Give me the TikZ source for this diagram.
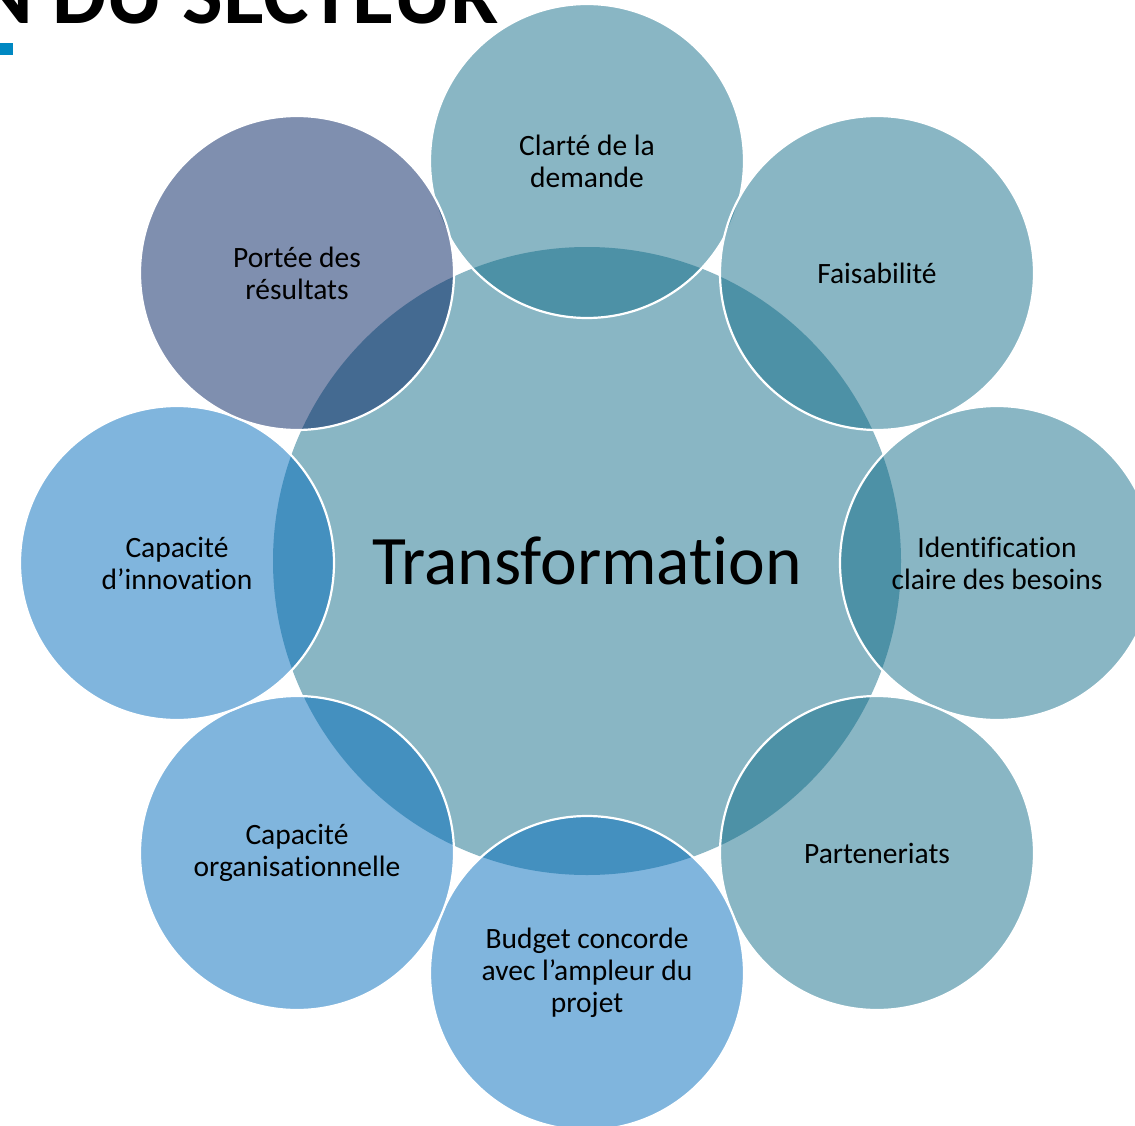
\documentclass[tikz,border=0pt]{standalone}
\usepackage{fontspec}
\setmainfont{Carlito}[Ligatures={NoCommon}]
\definecolor{teal}{RGB}{19,109,137}
\definecolor{slate}{RGB}{0,31,95}
\definecolor{lblue}{RGB}{1,107,187}
\definecolor{core}{RGB}{137,182,196}
\definecolor{accent}{RGB}{0,136,194}
\begin{document}
\begin{tikzpicture}[x=1pt,y=-1pt,
  sat/.style={circle, draw=white, line width=2.2pt, minimum size=314pt, inner sep=0pt,
    fill opacity=0.5, text opacity=1, align=center, text=black,
    font=\fontsize{29.5}{32}\selectfont},
  satT/.style={sat, fill=teal},
  satB/.style={sat, fill=lblue},
  satS/.style={sat, fill=slate}]
\useasboundingbox (0,0) rectangle (1135,1126);
\clip (0,0) rectangle (1135,1126);
% title fragment
\node[anchor=base east, inner sep=0pt, font=\fontsize{86}{90}\selectfont\bfseries] (title) at (499,24) {N DU SECTEUR};
\fill[accent] (0,43) rectangle (13,55);
% central circle
\node[circle, fill=core, minimum size=628pt, inner sep=0pt, text=black,
  font=\fontsize{69.5}{74}\selectfont] (center) at (587,561) {Transformation};
% satellites
\node[satT] (n1) at (587,161) {Clarté de la\\demande};
\node[satT] (n2) at (877,273) {Faisabilité};
\node[satT] (n3) at (997,563) {Identification\\claire des besoins};
\node[satT] (n4) at (877,853) {Parteneriats};
\node[satB] (n5) at (587,973) {Budget concorde\\avec l’ampleur du\\projet};
\node[satB] (n6) at (297,853) {Capacité\\organisationnelle};
\node[satB] (n7) at (177,563) {Capacité\\d’innovation};
\node[satS] (n8) at (297,273) {Portée des\\résultats};
\end{tikzpicture}
\end{document}
